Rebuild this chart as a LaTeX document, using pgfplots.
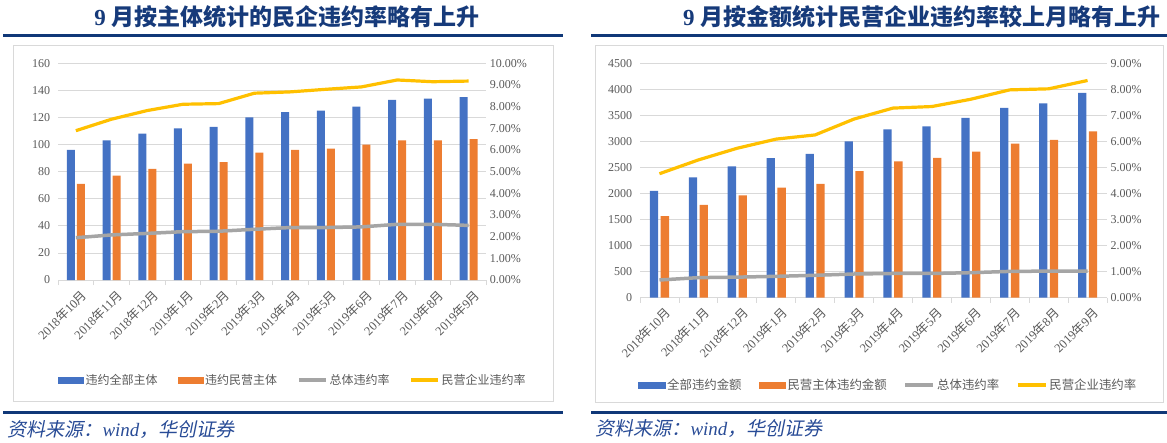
\documentclass[border=0pt]{standalone}
\usepackage{fontspec}
\setmainfont{Liberation Serif}
\newfontfamily\cjk{Noto Sans CJK SC}
\newfontfamily\cjkit{Noto Sans CJK SC}[FakeSlant=0.2]
\usepackage{pgfplots}
\pgfplotsset{compat=1.18}
\definecolor{cblue}{HTML}{4472C4}
\definecolor{corange}{HTML}{ED7D31}
\definecolor{cgray}{HTML}{A5A5A5}
\definecolor{cyellow}{HTML}{FFC000}
\definecolor{cgrid}{HTML}{D9D9D9}
\definecolor{ctick}{HTML}{595959}
\definecolor{crule}{RGB}{16,56,120}
\definecolor{ctitle}{RGB}{22,58,122}
\definecolor{csrc}{RGB}{40,75,150}
\newcommand\nian{{\cjk 年}}
\newcommand\yue{{\cjk 月}}
\pgfplotsset{
  base/.style={scale only axis, xmin=-0.5, xmax=11.5, ymin=0,
    /pgf/number format/assume math mode=true},
  prim/.style={base,
    axis x line*=bottom, axis y line*=left,
    y axis line style={draw=none},
    x axis line style={draw=cgrid, line width=0.8pt},
    ymajorgrids, major grid style={draw=cgrid, line width=0.8pt},
    xtick={0,...,11},
    xticklabels={2018\nian10\yue,2018\nian11\yue,2018\nian12\yue,2019\nian1\yue,2019\nian2\yue,2019\nian3\yue,2019\nian4\yue,2019\nian5\yue,2019\nian6\yue,2019\nian7\yue,2019\nian8\yue,2019\nian9\yue},
    major x tick style={draw=none},
    minor xtick={-0.5,0.5,...,11.5},
    minor x tick style={draw=cgrid, line width=0.8pt},
    minor tick length=5pt, tick align=outside,
    ytick style={draw=none},
    yticklabel style={font=\fontsize{12}{14}\selectfont, text=ctick},
    xticklabel style={font=\fontsize{12.5}{14}\selectfont, text=ctick, rotate=45, anchor=east, inner sep=0pt, yshift=-12pt},
    ybar, bar width=8pt,
    /pgf/number format/1000 sep={},
  },
  sec/.style={base,
    axis y line*=right, axis x line=none,
    y axis line style={draw=none}, ytick style={draw=none},
    yticklabel={\pgfmathprintnumber[fixed,fixed zerofill,precision=2]{\tick}\%},
    yticklabel style={font=\fontsize{12}{14}\selectfont, text=ctick},
    legend columns=4,
    legend cell align=left,
    legend style={draw=none, fill=none, inner sep=0pt, text=ctick,
      font=\cjk\fontsize{12}{14}\selectfont,
      /tikz/every even column/.append style={column sep=18pt}},
  },
}
\begin{document}
\begin{tikzpicture}[x=1pt,y=1pt]
\useasboundingbox (0,0) rectangle (1167,442);
% panel frames and rules
\draw[cgrid, line width=1pt] (13,41) rectangle (553,396);
\draw[cgrid, line width=1pt] (595,40) rectangle (1163,396);
\draw[crule, line width=3pt] (3,406.5) -- (563,406.5);
\draw[crule, line width=3pt] (591,406.5) -- (1167,406.5);
\draw[crule, line width=3pt] (3,30) -- (563,30);
\draw[crule, line width=3pt] (591,30) -- (1167,30);
% titles
\node[text=ctitle, font=\fontsize{23}{26}\selectfont\bfseries] at (287,425) {9 {\cjk\bfseries 月按主体统计的民企违约率略有上升}};
\node[anchor=east, text=ctitle, font=\fontsize{23}{26}\selectfont\bfseries] at (1164,425) {9 {\cjk\bfseries 月按金额统计民营企业违约率较上月略有上升}};
% sources
\node[anchor=west, text=csrc, font=\fontsize{19}{22}\selectfont] at (4,12) {{\cjkit 资料来源：}\textit{wind}{\cjkit ，华创证券}};
\node[anchor=west, text=csrc, font=\fontsize{19}{22}\selectfont] at (592,13) {{\cjkit 资料来源：}\textit{wind}{\cjkit ，华创证券}};

% ---------- left chart ----------
\begin{axis}[prim, at={(58pt,162pt)}, anchor=south west, width=428.4pt, height=216.7pt,
  ymax=160, ytick={0,20,...,160}]
\addplot[fill=cblue, draw=none, bar shift=-5pt] coordinates {(0,96)(1,103)(2,108)(3,112)(4,113)(5,120)(6,124)(7,125)(8,128)(9,133)(10,134)(11,135)};
\addplot[fill=corange, draw=none, bar shift=5pt] coordinates {(0,71)(1,77)(2,82)(3,86)(4,87)(5,94)(6,96)(7,97)(8,100)(9,103)(10,103)(11,104)};
\end{axis}
\begin{axis}[sec, at={(58pt,162pt)}, anchor=south west, width=428.4pt, height=216.7pt,
  ymax=10, ytick={0,1,...,10},
  legend style={at={(0,-0.4615)}, anchor=west}]
\addlegendimage{legend image code/.code={\fill[cblue] (0pt,-3pt) rectangle (25pt,3pt);}}
\addlegendentry{违约全部主体}
\addlegendimage{legend image code/.code={\fill[corange] (0pt,-3pt) rectangle (25pt,3pt);}}
\addlegendentry{违约民营主体}
\addplot[draw=cgray, line width=3.5pt, mark=none, legend image code/.code={\draw (0pt,0pt) -- (27pt,0pt);}] coordinates {(0,1.95)(1,2.08)(2,2.15)(3,2.23)(4,2.25)(5,2.34)(6,2.42)(7,2.42)(8,2.45)(9,2.57)(10,2.57)(11,2.52)};
\addlegendentry{总体违约率}
\addplot[draw=cyellow, line width=3.2pt, mark=none, legend image code/.code={\draw (0pt,0pt) -- (27pt,0pt);}] coordinates {(0,6.89)(1,7.42)(2,7.82)(3,8.11)(4,8.14)(5,8.62)(6,8.68)(7,8.80)(8,8.91)(9,9.23)(10,9.15)(11,9.18)};
\addlegendentry{民营企业违约率}
\end{axis}

% ---------- right chart ----------
\begin{axis}[prim, at={(640pt,144.3pt)}, anchor=south west, width=467pt, height=234.4pt,
  ymax=4500, ytick={0,500,...,4500}, bar width=8.3pt]
\addplot[fill=cblue, draw=none, bar shift=-5.4pt] coordinates {(0,2050)(1,2310)(2,2520)(3,2680)(4,2760)(5,3000)(6,3233)(7,3290)(8,3450)(9,3642)(10,3732)(11,3930)};
\addplot[fill=corange, draw=none, bar shift=5.4pt] coordinates {(0,1568)(1,1780)(2,1965)(3,2112)(4,2183)(5,2432)(6,2618)(7,2682)(8,2804)(9,2957)(10,3028)(11,3194)};
\end{axis}
\begin{axis}[sec, at={(640pt,144.3pt)}, anchor=south west, width=467pt, height=234.4pt,
  ymax=9, ytick={0,1,...,9},
  legend style={at={(-0.004,-0.3724)}, anchor=west, font=\cjk\fontsize{12.4}{14}\selectfont,
    /tikz/every even column/.append style={column sep=15pt}}]
\addlegendimage{legend image code/.code={\fill[cblue] (0pt,-3pt) rectangle (26.5pt,3pt);}}
\addlegendentry{全部违约金额}
\addlegendimage{legend image code/.code={\fill[corange] (0pt,-3pt) rectangle (26.5pt,3pt);}}
\addlegendentry{民营主体违约金额}
\addplot[draw=cgray, line width=3.5pt, mark=none, legend image code/.code={\draw (0pt,0pt) -- (28pt,0pt);}] coordinates {(0,0.68)(1,0.77)(2,0.79)(3,0.82)(4,0.86)(5,0.91)(6,0.93)(7,0.93)(8,0.96)(9,1.01)(10,1.02)(11,1.02)};
\addlegendentry{总体违约率}
\addplot[draw=cyellow, line width=3.2pt, mark=none, legend image code/.code={\draw (0pt,0pt) -- (28pt,0pt);}] coordinates {(0,4.76)(1,5.29)(2,5.74)(3,6.09)(4,6.25)(5,6.86)(6,7.28)(7,7.34)(8,7.62)(9,7.98)(10,8.02)(11,8.34)};
\addlegendentry{民营企业违约率}
\end{axis}
\end{tikzpicture}
\end{document}
